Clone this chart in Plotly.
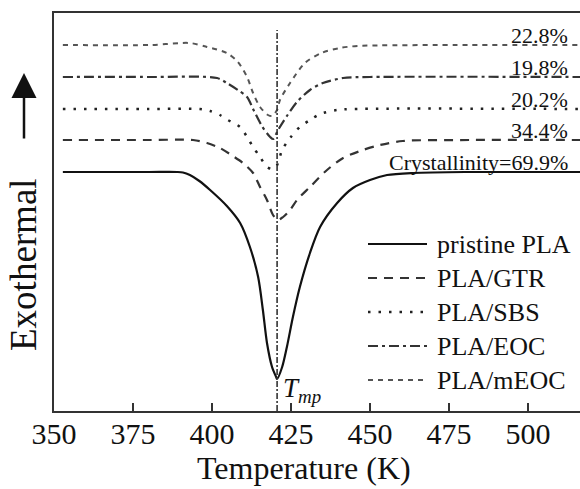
import plotly.graph_objects as go

# ---------------- data ----------------
series_names = ["pristine PLA", "PLA/GTR", "PLA/SBS", "PLA/EOC", "PLA/mEOC"]
crystallinity_labels = ["Crystallinity=69.9%", "34.4%", "20.2%", "19.8%", "22.8%"]

pristine_T = [352.8, 380.0, 389.0, 390.8, 393.0, 396.0, 399.4, 404.7, 408.9, 412.0, 414.6, 416.1,
              417.4, 419.0, 420.3, 420.6, 422.2, 423.7, 425.6, 427.8, 431.0, 434.2, 439.6, 444.6,
              450.0, 455.4, 463.6, 480.0, 516.5]
pristine_v = [239, 239, 239, 238.5, 236, 230, 221, 205, 188, 164, 134, 101,
              68, 44, 34, 32, 44, 64, 94, 124, 158, 184, 208, 223,
              231, 236, 238, 239, 239]

gtr_T = [352.8, 380.0, 394.0, 398.4, 402.5, 406.6, 409.8, 413.0, 415.2, 417.4, 419.3, 420.9,
         422.5, 424.7, 426.9, 431.0, 436.4, 441.5, 447.8, 453.2, 460.4, 481.6, 516.5]
gtr_v = [271, 271, 271, 268, 263, 255, 248, 238, 224, 211, 196, 191,
         194, 201, 211, 224, 241, 253, 261, 266, 270, 271, 271]

sbs_T = [352.8, 380.0, 396.2, 399.4, 402.5, 405.0, 408.9, 411.1, 413.0, 415.2, 417.4, 419.3,
         420.6, 422.2, 424.7, 427.8, 431.0, 434.2, 439.6, 444.6, 516.5]
sbs_v = [302, 302, 302, 300, 296, 291, 284, 274, 264, 254, 244, 242,
         246, 261, 273, 284, 291, 297, 301, 302, 302]

eoc_T = [352.8, 380.0, 401.6, 404.7, 408.2, 411.1, 413.0, 415.8, 418.4, 419.4, 420.9, 423.7,
         426.9, 431.0, 435.1, 441.5, 450.0, 516.5]
eoc_v = [334, 334, 333, 328, 321, 314, 302, 285, 274, 272, 281, 295,
         309, 321, 328, 333, 334, 334]

meoc_T = [352.8, 380.4, 393.0, 398.4, 404.7, 408.2, 411.1, 413.0, 415.2, 417.7, 419.0, 420.6,
          421.5, 424.7, 429.4, 434.6, 440.5, 446.0, 481.6, 516.5]
meoc_v = [366, 366, 368, 364, 358, 349, 334, 318, 304, 296, 295, 301,
          311, 328, 348, 358, 363, 365, 366, 366]

tmp_T = 420.6          # melting peak temperature line
tmp_top = 381          # top of the reference line (a.u.)
x_ticks = [350, 375, 400, 425, 450, 475, 500]

# ---------------- styles ----------------
all_T = [pristine_T, gtr_T, sbs_T, eoc_T, meoc_T]
all_v = [pristine_v, gtr_v, sbs_v, eoc_v, meoc_v]
colors = ["#111111", "#333333", "#222222", "#333333", "#555555"]
dashes = ["solid", "9px,7px", "2.5px,8px", "10px,4px,3px,4px", "5px,5px"]
widths = [2.2, 2.2, 2.5, 2.2, 2.0]
FONT = "Liberation Serif"

W, H = 580, 489
ML, MT, MB, MR = 54, 13, 78, 0
PW, PH = W - ML - MR, H - MT - MB


def px2paper(px, py):
    return (px - ML) / PW, (H - MB - py) / PH


fig = go.Figure()
for name, T, v, c, d, w in zip(series_names, all_T, all_v, colors, dashes, widths):
    fig.add_trace(go.Scatter(x=T, y=v, mode="lines", name=name, showlegend=False,
                             line=dict(color=c, dash=d, width=w, shape="spline", smoothing=0.8)))

fig.add_trace(go.Scatter(x=[tmp_T, tmp_T], y=[0, tmp_top], mode="lines", showlegend=False,
                         line=dict(color="#333333", dash="6px,2px,2px,2px", width=1.6)))

annotations = []
# crystallinity labels on the right
for lab, v in zip(crystallinity_labels, all_v):
    annotations.append(dict(x=513.3, y=v[-1], xref="x", yref="y", text=lab, showarrow=False,
                            xanchor="right", yanchor="bottom", yshift=-5,
                            font=dict(family=FONT, size=22, color="#111111")))
# T_mp label
annotations.append(dict(x=tmp_T + 1.2, y=min(pristine_v) - 11, xref="x", yref="y",
                        text="<i>T</i><sub><i>mp</i></sub>", showarrow=False,
                        xanchor="left", yanchor="middle",
                        font=dict(family=FONT, size=27, color="#111111")))

# manual legend
shapes = []
row_y = [244, 278, 312, 346, 380]
for name, c, d, w, ry in zip(series_names, colors, dashes, widths, row_y):
    x0, y0 = px2paper(368, ry)
    x1, _ = px2paper(427, ry)
    shapes.append(dict(type="line", xref="paper", yref="paper", x0=x0, x1=x1, y0=y0, y1=y0,
                       line=dict(color=c, dash=d, width=w)))
    tx, ty = px2paper(435, ry)
    annotations.append(dict(x=tx, y=ty, xref="paper", yref="paper", text=name, showarrow=False,
                            xanchor="left", yanchor="middle",
                            font=dict(family=FONT, size=26, color="#111111")))

# axis titles
tx, ty = px2paper(304, 468)
annotations.append(dict(x=tx, y=ty, xref="paper", yref="paper", text="Temperature (K)",
                        showarrow=False, xanchor="center", yanchor="middle",
                        font=dict(family=FONT, size=32, color="#111111")))
tx, ty = px2paper(23, 265)
annotations.append(dict(x=tx, y=ty, xref="paper", yref="paper", text="Exothermal",
                        showarrow=False, textangle=-90, xanchor="center", yanchor="middle",
                        font=dict(family=FONT, size=37, color="#111111")))
# up arrow
ax_, ay_ = px2paper(24, 73)
annotations.append(dict(x=ax_, y=ay_, xref="paper", yref="paper", text="", showarrow=True,
                        ax=0, ay=67, arrowhead=2, arrowsize=2.0, arrowwidth=2.5,
                        arrowcolor="#111111"))

fig.update_layout(
    width=W, height=H,
    margin=dict(l=ML, r=MR, t=MT, b=MB),
    paper_bgcolor="white", plot_bgcolor="white",
    shapes=shapes, annotations=annotations,
    showlegend=False,
    xaxis=dict(range=[350, 350 + PW / 3.16], tickvals=x_ticks, ticks="inside", ticklen=8,
               tickwidth=1.5, tickcolor="#333333", showline=True, linecolor="#333333",
               linewidth=1.5, mirror=True, showgrid=False, zeroline=False,
               ticklabelstandoff=-5,
               tickfont=dict(family=FONT, size=30, color="#111111")),
    yaxis=dict(range=[0, PH], showticklabels=False, ticks="", showline=True,
               linecolor="#333333", linewidth=1.5, showgrid=False, zeroline=False),
)

fig.write_html("out.html")
